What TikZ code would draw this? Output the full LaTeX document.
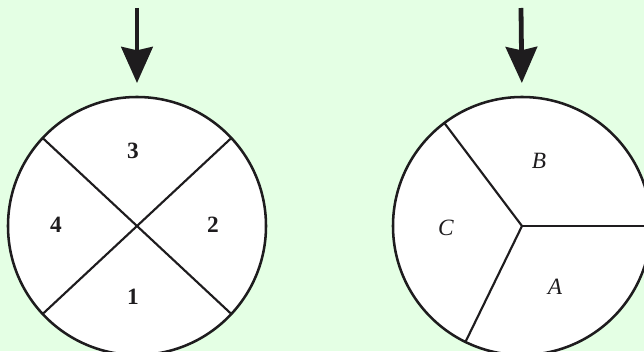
\documentclass[tikz,border=0pt]{standalone}
\usepackage{fontspec}
\setmainfont{Liberation Serif}
\usepackage{xcolor}
\usepackage{tikz}
\usetikzlibrary{arrows.meta, positioning, calc}
\definecolor{paleback}{RGB}{228, 255, 228}
\definecolor{inkdark}{RGB}{30, 28, 30}

\begin{document}
\begin{tikzpicture}[
  x=0.75pt, y=0.75pt,
  disk/.style={circle, draw=inkdark, fill=white, line width=1.9pt,
               minimum size=193.5pt, inner sep=0pt, outer sep=0pt},
  spoke/.style={draw=inkdark, line width=1.6pt},
  feed/.style={draw=inkdark, line width=3.6pt,
               -{Stealth[length=27pt, width=23.5pt, inset=2.5pt]},
               shorten >=10.5pt},
  num/.style={font=\fontsize{17.5}{20}\selectfont\bfseries, text=inkdark},
  sect/.style={font=\fontsize{17.5}{20}\selectfont\itshape, text=inkdark}
]
  % ── Background ─────────────────────────────────────────────────────────────
  \fill[paleback] (0,0) rectangle (644,351);
  \useasboundingbox (0,0) rectangle (644,351);
  \clip (0,0) rectangle (644,351);

  % ── Discs ──────────────────────────────────────────────────────────────────
  \node[disk] (quad) at (137,125) {};
  \node[disk] (tri)  at (522,125) {};

  % ── Inlet arrows ───────────────────────────────────────────────────────────
  \coordinate (quadin) at (137,343);
  \coordinate (triin)  at (521,343);
  \draw[feed] (quadin) -- (quad.north);
  \draw[feed] (triin)  -- (tri.north);

  % ── Four sectors ───────────────────────────────────────────────────────────
  \draw[spoke] (quad.137) -- (quad.317);
  \draw[spoke] (quad.43)  -- (quad.223);
  \node[num] (q3) at (133,200) {3};
  \node[num] (q4) at (56,126)  {4};
  \node[num] (q2) at (213,126) {2};
  \node[num] (q1) at (133,54)  {1};

  % ── Three sectors ──────────────────────────────────────────────────────────
  \foreach \ang in {0, 127, 244}
    \draw[spoke] (tri.center) -- (tri.\ang);
  \node[sect] (sb) at (539,190) {B};
  \node[sect] (sc) at (446,123) {C};
  \node[sect] (sa) at (555,64)  {A};
\end{tikzpicture}
\end{document}
